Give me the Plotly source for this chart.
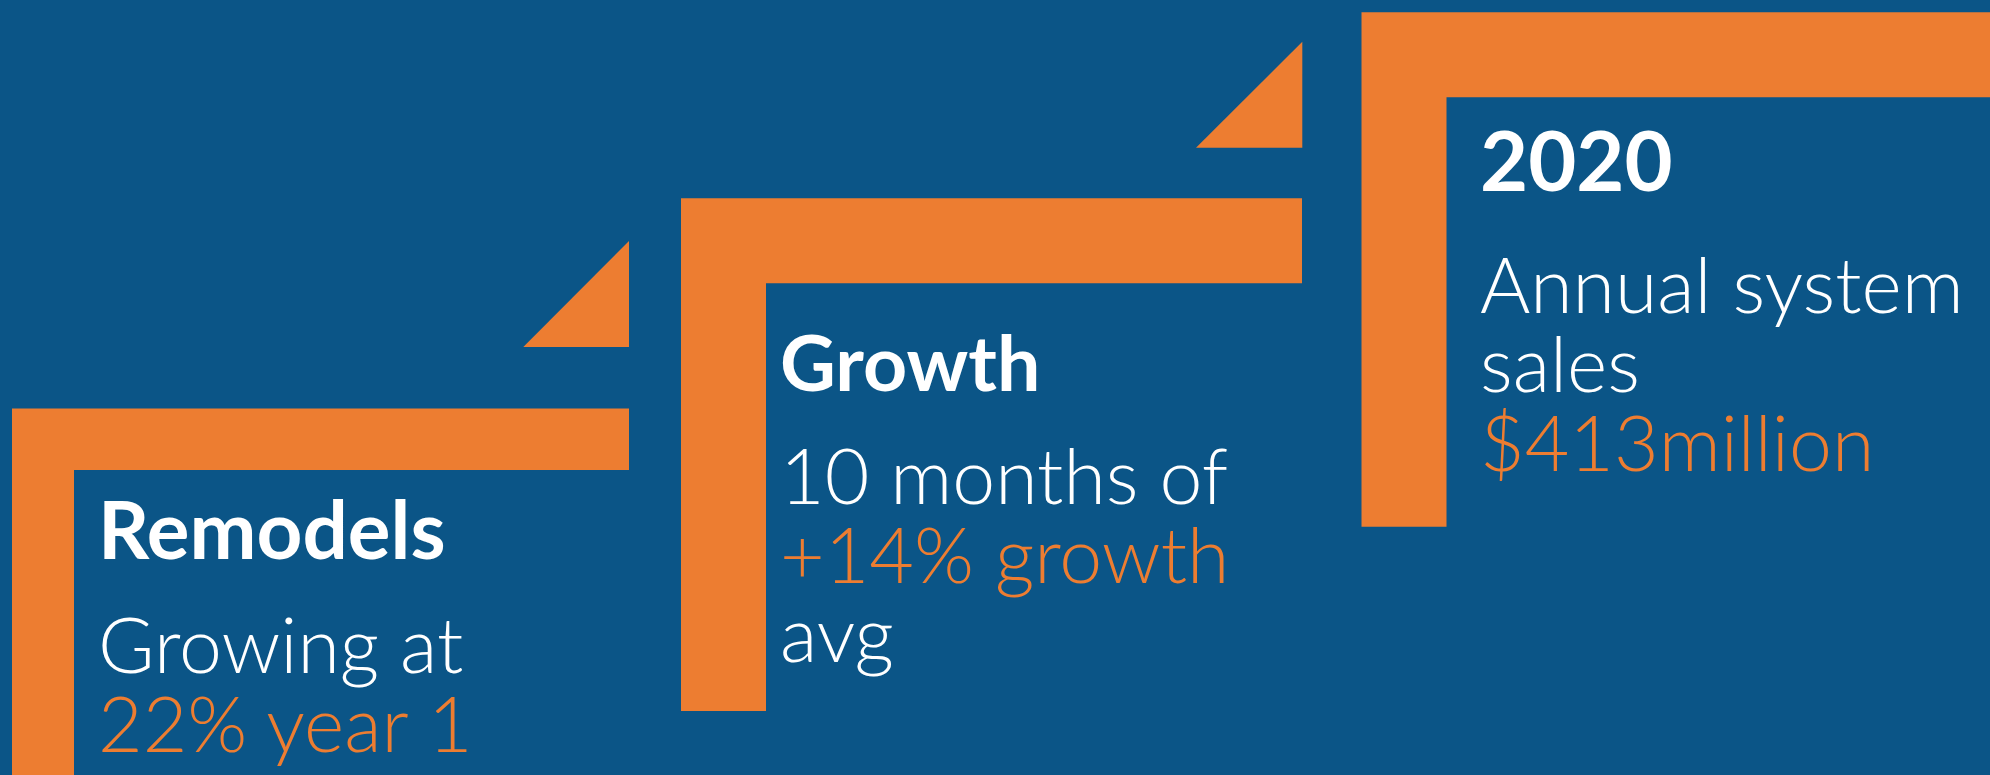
import plotly.graph_objects as go

# ---- content (text data) ----
headings = ["Remodels", "Growth", "2020"]
block_lines = [
    ["Growing at", "22% year 1"],
    ["10 months of", "+14% growth", "avg"],
    ["Annual system", "sales", "$413million"],
]
highlight_flags = [
    [False, True],
    [False, True, False],
    [False, False, True],
]

# ---- layout / geometry (styling, not data) ----
W, H = 1990, 775
BLUE = "#0B5587"
ORANGE = "#ED7D31"
WHITE = "#FFFFFF"
FONT = "Lato"

steps = [
    dict(x0=12, y0=408.5, x1=629, th=61.5, tv=62, yb=780,
         text_x=97, head_base=560, first_base=671.7, head_size=80),
    dict(x0=681, y0=198.3, x1=1302, th=85, tv=85, yb=711,
         text_x=779, head_base=391.7, first_base=503.3, head_size=77),
    dict(x0=1361.5, y0=12.3, x1=2000, th=85, tv=85, yb=526.7,
         text_x=1479, head_base=192.7, first_base=311.7, head_size=83),
]
tri_geo = [
    dict(xl=523.3, xr=629, yt=241, yb=347),
    dict(xl=1196, xr=1302.3, yt=41.7, yb=147.7),
]
BODY_SIZE = 77
LINE_GAP = 79          # px between baselines of body lines
ASC, DESC = 0.987, 0.213  # Lato ascent / descent ratios
BASE_SIZE = LINE_GAP / 1.3  # plotly line spacing is 1.3em of the base font


def l_path(s):
    x0, y0, x1, th, tv, yb = s["x0"], s["y0"], s["x1"], s["th"], s["tv"], s["yb"]
    return (f"M{x0},{y0} L{x1},{y0} L{x1},{y0+th} L{x0+tv},{y0+th} "
            f"L{x0+tv},{yb} L{x0},{yb} Z")


shapes = []
for s in steps:
    shapes.append(dict(type="path", path=l_path(s), xref="x", yref="y",
                       fillcolor=ORANGE, line=dict(width=0), layer="below"))
for t in tri_geo:
    shapes.append(dict(type="path",
                       path=f"M{t['xl']},{t['yb']} L{t['xr']},{t['yb']} L{t['xr']},{t['yt']} Z",
                       xref="x", yref="y", fillcolor=ORANGE, line=dict(width=0), layer="below"))

annotations = []
for i, s in enumerate(steps):
    hs = s["head_size"]
    annotations.append(dict(
        x=s["text_x"], y=s["head_base"] + DESC * hs, xref="x", yref="y",
        xanchor="left", yanchor="bottom", showarrow=False, borderpad=0,
        text=f"<b>{headings[i]}</b>",
        font=dict(family=FONT, size=hs, color=WHITE),
    ))
    parts = []
    for line, hl in zip(block_lines[i], highlight_flags[i]):
        col = ORANGE if hl else WHITE
        parts.append(f'<span style="font-size:{BODY_SIZE}px;font-weight:300;color:{col}">{line}</span>')
    annotations.append(dict(
        x=s["text_x"], y=s["first_base"] - ASC * BODY_SIZE, xref="x", yref="y",
        xanchor="left", yanchor="top", align="left", showarrow=False, borderpad=0,
        text="<br>".join(parts),
        font=dict(family=FONT, size=BASE_SIZE, color=WHITE, weight=300),
    ))

fig = go.Figure()
fig.update_layout(
    width=W, height=H,
    margin=dict(l=0, r=0, t=0, b=0),
    paper_bgcolor=BLUE, plot_bgcolor=BLUE,
    xaxis=dict(range=[0, W], visible=False, fixedrange=True),
    yaxis=dict(range=[H, 0], visible=False, fixedrange=True),
    shapes=shapes, annotations=annotations,
    showlegend=False,
)
fig.write_html(
    "out.html",
    config={"displayModeBar": False},
    post_script=(f"document.body.style.margin='0';"
                 f"document.body.style.background='{BLUE}';"
                 f"document.body.style.overflow='hidden';"),
)
